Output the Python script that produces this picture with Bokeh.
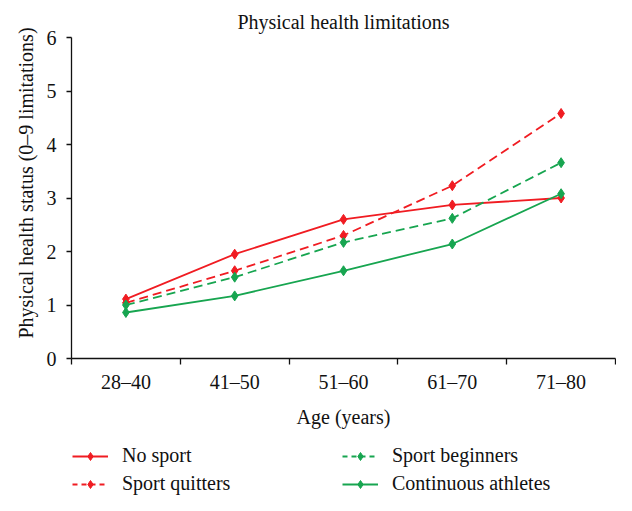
from bokeh.plotting import figure
from bokeh.models import FixedTicker, Legend, LegendItem, Range1d
from bokeh.layouts import column
from bokeh.embed import file_html
from bokeh.resources import INLINE

categories = ["28\u201340", "41\u201350", "51\u201360", "61\u201370", "71\u201380"]
no_sport = [1.11, 1.95, 2.60, 2.87, 3.00]
sport_quitters = [1.04, 1.64, 2.30, 3.23, 4.58]
sport_beginners = [1.00, 1.52, 2.17, 2.62, 3.66]
continuous_athletes = [0.86, 1.17, 1.64, 2.14, 3.08]
y_ticks = [0, 1, 2, 3, 4, 5, 6]

RED = "#f01c22"
GREEN = "#17a550"
FONT = "Liberation Serif"
INK = "#111111"

xs = [i + 0.5 for i in range(len(categories))]

p = figure(width=616, height=430, output_backend="svg", toolbar_location=None,
           x_range=Range1d(0, len(categories)), y_range=Range1d(0, 6),
           title="Physical health limitations",
           min_border_left=71, min_border_right=1, min_border_top=37, min_border_bottom=72)
p.title.align = "center"
p.title.text_font = FONT
p.title.text_font_size = "20px"
p.title.text_font_style = "normal"
p.title.text_color = INK
p.outline_line_color = None
p.grid.visible = False

series = [
    ("No sport", no_sport, RED, "solid"),
    ("Sport quitters", sport_quitters, RED, "9 5"),
    ("Sport beginners", sport_beginners, GREEN, "9 5"),
    ("Continuous athletes", continuous_athletes, GREEN, "solid"),
]
for name, vals, col, dash in series:
    p.line(xs, vals, line_color=col, line_width=1.8, line_dash=dash)
    p.scatter(xs, vals, marker="diamond", size=10, fill_color=col, line_color=col)

xa = p.xaxis[0]
xa.ticker = FixedTicker(ticks=xs, minor_ticks=list(range(len(categories) + 1)))
xa.major_label_overrides = {x: c for x, c in zip(xs, categories)}
xa.major_tick_line_color = None
xa.major_tick_out = 6
xa.major_tick_in = 0
xa.minor_tick_out = 6
xa.minor_tick_in = 0
xa.minor_tick_line_color = INK
xa.minor_tick_line_width = 1.3
xa.axis_line_color = INK
xa.axis_line_width = 1.3
xa.major_label_standoff = 6
xa.axis_label = "Age (years)"
xa.axis_label_standoff = 10

ya = p.yaxis[0]
ya.ticker = FixedTicker(ticks=y_ticks)
ya.major_tick_out = 5
ya.major_tick_in = 0
ya.minor_tick_line_color = None
ya.axis_line_color = INK
ya.axis_line_width = 1.3
ya.major_tick_line_color = INK
ya.major_tick_line_width = 1.3
ya.axis_label = "\u00a0" * 6 + "Physical health status (0\u20139 limitations)"
ya.axis_label_standoff = 7
ya.major_label_standoff = 10

for ax in (xa, ya):
    ax.major_label_text_font = FONT
    ax.major_label_text_font_size = "20px"
    ax.major_label_text_color = INK
    ax.axis_label_text_font = FONT
    ax.axis_label_text_font_size = "20px"
    ax.axis_label_text_font_style = "normal"
    ax.axis_label_text_color = INK

# legend panel below the chart
lf = figure(width=616, height=65, output_backend="svg", toolbar_location=None,
            x_range=Range1d(0, 1), y_range=Range1d(0, 1),
            x_axis_location=None, y_axis_location=None,
            min_border_left=0, min_border_right=0, min_border_top=0, min_border_bottom=0)
lf.outline_line_color = None
lf.grid.visible = False
items = {}
for name, vals, col, dash in series:
    l = lf.line([-10, -9], [-10, -9], line_color=col, line_width=1.8,
                line_dash="5 4" if dash != "solid" else dash)
    s = lf.scatter([-10], [-10], marker="diamond", size=8, fill_color=col, line_color=col)
    items[name] = LegendItem(label=name, renderers=[l, s])

legend = Legend(items=[items["No sport"], items["Sport quitters"],
                       items["Sport beginners"], items["Continuous athletes"]],
                ncols=2, location=(1, 0),
                glyph_width=36, glyph_height=20, label_height=20,
                label_standoff=14, label_width=215, spacing=5, padding=0, margin=0,
                border_line_color=None, background_fill_alpha=0,
                label_text_font=FONT, label_text_font_size="20px", label_text_color=INK)
lf.add_layout(legend, "center")

open("out.html", "w").write(file_html(column(p, lf, spacing=0), INLINE))
